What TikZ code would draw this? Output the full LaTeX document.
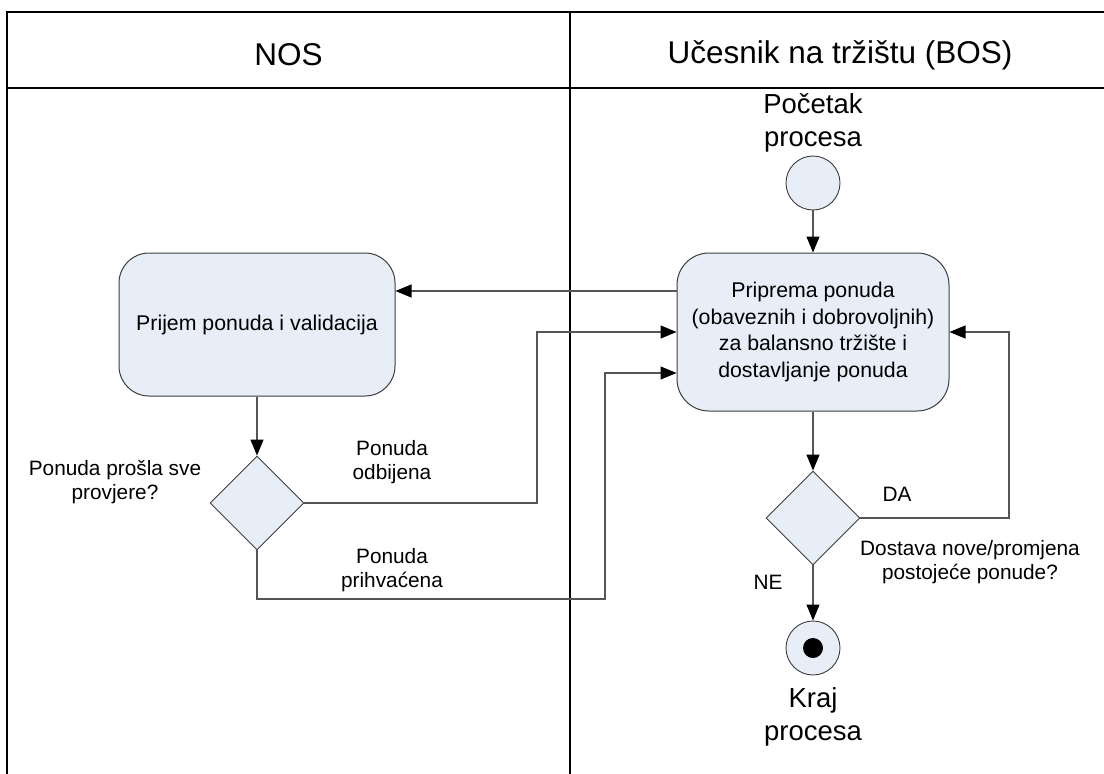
\documentclass[tikz,border=0pt]{standalone}
\usepackage{fontspec}
\setmainfont{Liberation Sans}
\usetikzlibrary{arrows.meta,shapes.geometric,calc}

\definecolor{actfill}{RGB}{232,238,247}
\definecolor{actline}{RGB}{60,60,60}
\definecolor{flowline}{RGB}{85,85,85}

\tikzset{
  lane/.style={line width=2pt, black},
  activity/.style={draw=actline, fill=actfill, line width=1pt, rounded corners=32pt,
    inner sep=0pt, align=center, font=\fontsize{21.3}{26.5}\selectfont},
  decision/.style={diamond, draw=actline, fill=actfill, line width=0.9pt, inner sep=0pt,
    minimum width=94pt, minimum height=94pt},
  startnode/.style={circle, draw=actline, fill=actfill, line width=0.9pt, minimum size=54pt, inner sep=0pt},
  flow/.style={draw=flowline, line width=1.2pt, -{Triangle[length=16pt,width=13pt,fill=black,color=black]}},
  lbl/.style={align=center, font=\fontsize{20.8}{24.5}\selectfont, inner sep=0pt},
  biglbl/.style={align=center, font=\fontsize{27.5}{33}\selectfont, inner sep=0pt},
  headtxt/.style={font=\fontsize{31.5}{36}\selectfont, inner sep=0pt}
}

\begin{document}
\begin{tikzpicture}[x=1pt, y=-1pt]
\useasboundingbox (0,0) rectangle (1104,774);

% swimlane frame
\draw[lane] (1110,12) -- (7,12) -- (7,780);
\draw[lane] (7,88) -- (1110,88);
\draw[lane] (570,12) -- (570,780);

% lane headings
\node[headtxt] (hnos) at (288.5,55) {NOS};
\node[headtxt] (hbos) at (840,55) {Učesnik na tržištu (BOS)};

% start
\node[startnode] (start) at (813,183) {};
\node[biglbl, anchor=south] (startlbl) at (813,152) {Početak\\procesa};

% activities
\node[activity, minimum width=272pt, minimum height=158pt] (prep) at (813,332)
  {Priprema ponuda\\(obaveznih i dobrovoljnih)\\za balansno tržište i\\dostavljanje ponuda};
\node[activity, minimum width=276pt, minimum height=143pt, rounded corners=30pt] (recv) at (257,324.5)
  {Prijem ponuda i validacija};

% decisions
\node[decision] (chk) at (257,503) {};
\node[decision] (again) at (813,518) {};

% end
\node[startnode] (stop) at (813,648) {};
\fill[black] (stop.center) circle (10pt);
\node[biglbl, anchor=north] (stoplbl) at (813,687) {Kraj\\procesa};

% ports and bend points
\coordinate (prepOut) at ([yshift=41pt]prep.west);
\coordinate (prepInB) at ([yshift=-41pt]prep.west);
\coordinate (rej) at (537,332);
\coordinate (accA) at (257,599);
\coordinate (accB) at (605,373);
\coordinate (loop) at (1009,332);

% connectors
\draw[flow] (start) -- (prep);
\draw[flow] (prepOut) -- (recv.east |- prepOut);
\draw[flow] (recv) -- (chk);
\draw[flow] (chk.east) -| (rej) -- (prep.west);
\draw[flow] (chk.south) -- (accA) -| (accB) -- (prepInB);
\draw[flow] (prep) -- (again);
\draw[flow] (again.east) -| (loop) -- (prep.east);
\draw[flow] (again) -- (stop);

% labels
\node[lbl] (qchk) at (115,482) {Ponuda prošla sve\\provjere?};
\node[lbl] (lrej) at (392,462) {Ponuda\\odbijena};
\node[lbl] (lacc) at (392,570) {Ponuda\\prihvaćena};
\node[lbl] (lda) at (897,494) {DA};
\node[lbl] (lne) at (768,582) {NE};
\node[lbl] (qagain) at (970,562) {Dostava nove/promjena\\postojeće ponude?};
\end{tikzpicture}
\end{document}
